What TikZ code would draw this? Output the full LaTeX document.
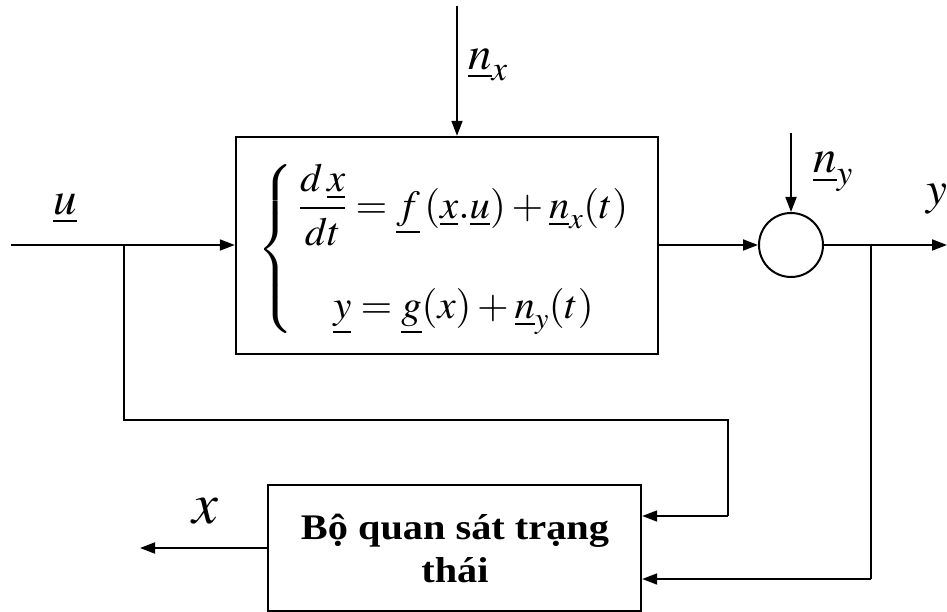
\documentclass[tikz,border=0pt]{standalone}
\usepackage{amsmath}
\usepackage{mathptmx}
\usepackage[no-math]{fontspec}
\setmainfont{Liberation Serif}
\usetikzlibrary{arrows.meta}
\tikzset{
  blockbox/.style={draw, line width=2.4pt, rectangle, inner sep=0pt},
  conn/.style={line width=1.8pt},
  arr/.style={conn, -{Triangle[length=15pt,width=11pt]}},
  sumnode/.style={draw, line width=2pt, circle, minimum size=64pt, inner sep=0pt},
  lbl/.style={inner sep=0pt, font=\fontsize{47}{52}\selectfont},
}
\begin{document}
\begin{tikzpicture}[x=1pt,y=-1pt]
\useasboundingbox (0,0) rectangle (947,612);
% main block
\node[blockbox, minimum width=422pt, minimum height=217pt] (plant) at (447,245.5) {};
\node[inner sep=0pt, xscale=1.02, font=\fontsize{40}{46}\selectfont] (eq) at (446,249)
 {$\left\{\begin{array}{c}
   \dfrac{d\,\underline{x}}{dt}=\underline{f}\left(\underline{x}.\underline{u}\right)+\underline{n}_x(t)\\[54pt]
   \underline{y}=\underline{g}(x)+\underline{n}_y(t)
  \end{array}\right.$};
% sum junction
\node[sumnode] (sum) at (791,245) {};
% observer
\node[blockbox, minimum width=373pt, minimum height=126pt] (obs) at (454.5,548) {};
\node[inner sep=0pt, align=center, xscale=1.12, font=\fontsize{36}{43}\selectfont\bfseries] (obstxt) at (455,548) {Bộ quan sát trạng\\thái};
% coordinates
\coordinate (uin) at (11,245);
\coordinate (ub) at (124,245);
\coordinate (ub2) at (124,420);
\coordinate (ub3) at (728,420);
\coordinate (ub4) at (728,516);
\coordinate (nxtop) at (457,6);
\coordinate (nytop) at (791,133);
\coordinate (yb) at (871,245);
\coordinate (yb2) at (871,579);
\coordinate (yout) at (947,245);
\coordinate (xout) at (140,548);
% connectors
\draw[arr] (uin) -- (uin -| plant.west);
\draw[arr] (nxtop) -- (nxtop |- plant.north);
\draw[arr] (plant.east |- sum) -- (sum.west);
\draw[arr] (nytop) -- (sum.north);
\draw[arr] (sum.east) -- (yout);
\draw[conn] (ub) -- (ub2) -- (ub3) -- (ub4);
\draw[arr] (ub4) -- (obs.east |- ub4);
\draw[conn, line width=2.4pt] (yb) -- (yb2);
\draw[arr] (yb2) -- (obs.east |- yb2);
\draw[arr] (obs.west |- xout) -- (xout);
% labels
\node[lbl] (lu) at (65,209) {$\underline{u}$};
\node[lbl] (lnx) at (488,65) {$\underline{n}_x$};
\node[lbl] (lny) at (833,172) {$\underline{n}_y$};
\node[lbl] (ly) at (937,199) {$y$};
\node[lbl, font=\fontsize{58}{62}\selectfont] (lx) at (205,511) {$x$};
\end{tikzpicture}
\end{document}
